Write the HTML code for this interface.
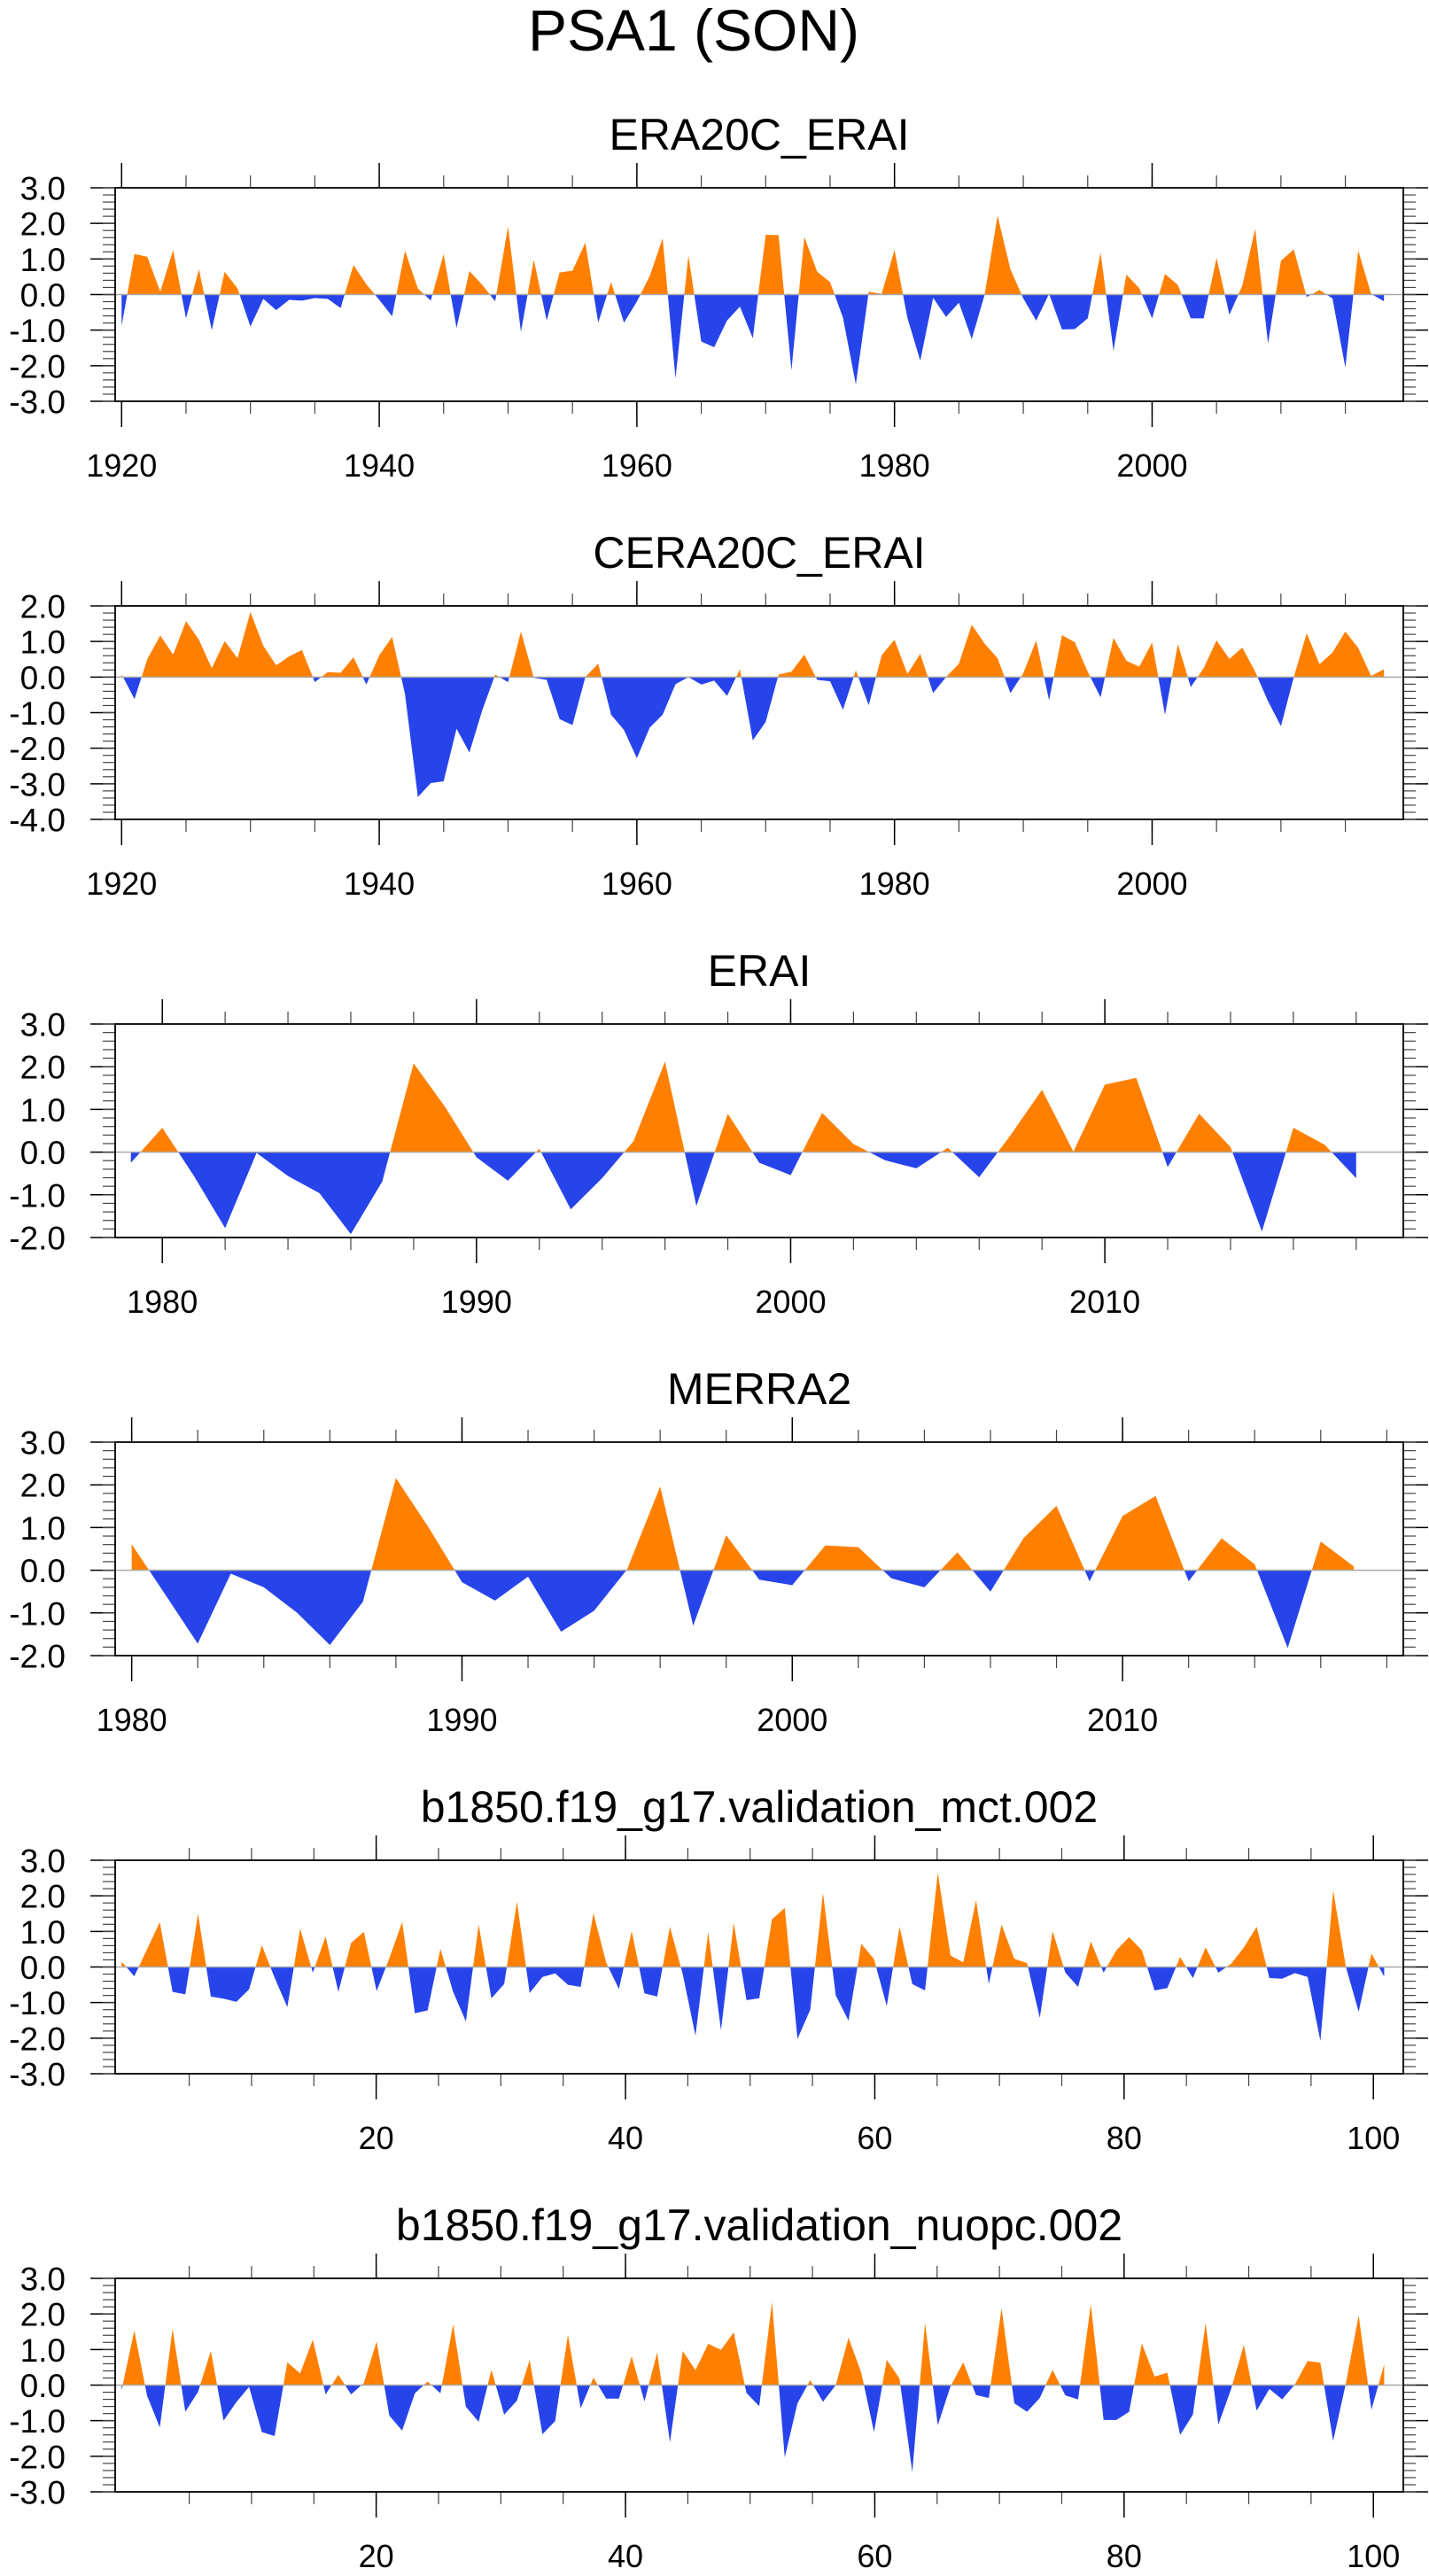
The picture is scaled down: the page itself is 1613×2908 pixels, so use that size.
<!DOCTYPE html>
<html>
<head>
<meta charset="utf-8">
<style>
  html, body { margin: 0; padding: 0; background: #fff; }
  svg { display: block; }
  text { font-family: "Liberation Sans", "DejaVu Sans", sans-serif; fill: #000; }
</style>
</head>
<body>
<svg id="chart" xmlns="http://www.w3.org/2000/svg" width="1613" height="2908" viewBox="0 0 1613 2908">
  <text x="783" y="57" font-size="66" text-anchor="middle">PSA1 (SON)</text>
</svg>
<script>
// ---------- data ----------
const era20cStartYear = 1920;
const era20cValues = [-0.88,1.14,1.06,0.08,1.25,-0.67,0.71,-1.0,0.64,0.17,
 -0.9,-0.12,-0.44,-0.15,-0.17,-0.1,-0.12,-0.38,0.83,0.29,
 -0.15,-0.61,1.23,0.17,-0.17,1.14,-0.94,0.66,0.27,-0.19,
 1.91,-1.05,0.98,-0.73,0.62,0.67,1.46,-0.79,0.35,-0.79,
 -0.2,0.52,1.58,-2.36,1.1,-1.32,-1.48,-0.73,-0.34,-1.23,
 1.68,1.67,-2.13,1.62,0.64,0.35,-0.65,-2.53,0.08,0.02,
 1.25,-0.65,-1.86,-0.09,-0.63,-0.23,-1.25,0.0,2.22,0.71,
 -0.11,-0.73,0.02,-0.98,-0.97,-0.67,1.18,-1.58,0.56,0.18,
 -0.67,0.58,0.27,-0.67,-0.67,1.03,-0.57,0.25,1.85,-1.38,
 0.95,1.27,-0.07,0.13,-0.11,-2.05,1.24,0.02,-0.19];

const cera20cStartYear = 1920;
const cera20cValues = [0.08,-0.62,0.51,1.17,0.63,1.57,1.05,0.25,1.01,0.53,
 1.83,0.88,0.33,0.58,0.76,-0.14,0.14,0.12,0.56,-0.21,
 0.61,1.13,-0.48,-3.37,-2.98,-2.93,-1.45,-2.12,-0.93,0.07,
 -0.14,1.28,-0.02,-0.08,-1.18,-1.35,0.0,0.38,-1.06,-1.49,
 -2.28,-1.42,-1.06,-0.2,0.0,-0.21,-0.1,-0.53,0.22,-1.78,
 -1.26,0.07,0.15,0.63,-0.08,-0.12,-0.92,0.19,-0.79,0.61,
 1.05,0.09,0.65,-0.45,0.0,0.38,1.47,0.94,0.53,-0.45,
 0.11,1.03,-0.65,1.18,0.98,0.15,-0.57,1.1,0.46,0.29,
 0.97,-1.06,0.93,-0.28,0.25,1.03,0.51,0.83,0.15,-0.68,
 -1.38,0.0,1.23,0.36,0.69,1.28,0.82,0.03,0.22];

const eraiStartYear = 1979;
const eraiValues = [-0.25,0.57,-0.55,-1.78,-0.02,-0.56,-0.96,-1.92,-0.69,2.08,
 1.06,-0.12,-0.67,0.08,-1.34,-0.61,0.26,2.12,-1.26,0.9,
 -0.25,-0.54,0.92,0.19,-0.19,-0.38,0.1,-0.59,0.4,1.46,
 0.01,1.58,1.74,-0.35,0.9,0.12,-1.86,0.57,0.17,-0.61];

const merra2StartYear = 1980;
const merra2Values = [0.61,-0.55,-1.72,-0.08,-0.4,-0.99,-1.75,-0.74,2.16,0.99,
 -0.28,-0.71,-0.15,-1.44,-0.95,0.02,1.96,-1.3,0.82,-0.22,
 -0.35,0.58,0.54,-0.19,-0.4,0.42,-0.5,0.75,1.51,-0.26,
 1.27,1.74,-0.26,0.75,0.14,-1.82,0.67,0.09];

const mctStartYear = 1;
const mctValues = [0.15,-0.26,0.5,1.26,-0.7,-0.77,1.5,-0.83,-0.89,-0.98,
 -0.63,0.61,-0.3,-1.13,1.08,-0.16,0.86,-0.7,0.68,0.99,
 -0.68,0.25,1.26,-1.3,-1.22,0.51,-0.7,-1.53,1.19,-0.88,
 -0.48,1.84,-0.73,-0.28,-0.18,-0.5,-0.56,1.51,0.12,-0.62,
 1.01,-0.74,-0.83,1.13,-0.2,-1.93,0.98,-1.78,1.24,-0.93,
 -0.88,1.34,1.66,-2.02,-1.2,2.08,-0.8,-1.51,0.65,0.22,
 -1.1,1.13,-0.48,-0.66,2.65,0.32,0.13,1.88,-0.48,1.19,
 0.23,0.11,-1.43,1.01,-0.16,-0.56,0.72,-0.16,0.47,0.84,
 0.47,-0.66,-0.59,0.28,-0.31,0.55,-0.16,0.09,0.55,1.13,
 -0.31,-0.33,-0.17,-0.28,-2.08,2.15,0.0,-1.26,0.38,-0.27];

const nuopcStartYear = 1;
const nuopcValues = [-0.15,1.53,-0.3,-1.19,1.58,-0.75,-0.19,0.96,-1.0,-0.48,
 -0.05,-1.32,-1.43,0.64,0.33,1.28,-0.26,0.29,-0.26,0.06,
 1.23,-0.86,-1.28,-0.23,0.1,-0.23,1.71,-0.61,-1.03,0.43,
 -0.83,-0.44,0.71,-1.38,-1.01,1.42,-0.65,0.21,-0.38,-0.38,
 0.81,-0.46,0.92,-1.61,0.96,0.42,1.16,0.99,1.48,-0.22,
 -0.59,2.33,-2.03,-0.51,0.14,-0.47,0.0,1.33,0.35,-1.32,
 0.71,0.18,-2.44,1.75,-1.13,-0.03,0.64,-0.28,-0.36,2.16,
 -0.51,-0.75,-0.36,0.43,-0.29,-0.4,2.27,-0.98,-0.98,-0.75,
 1.17,0.24,0.35,-1.4,-0.83,1.75,-1.11,-0.11,1.13,-0.72,
 -0.11,-0.4,0.02,0.68,0.63,-1.57,0.05,1.96,-0.69,0.58];

const yTicks1 = ["3.0","2.0","1.0","0.0","-1.0","-2.0","-3.0"];
const yTicks2 = ["2.0","1.0","0.0","-1.0","-2.0","-3.0","-4.0"];
const yTicks3 = ["3.0","2.0","1.0","0.0","-1.0","-2.0"];
const xLabelsCentury = ["1920","1940","1960","1980","2000"];
const xLabelsModern = ["1980","1990","2000","2010"];
const xLabelsModel = ["20","40","60","80","100"];

// ---------- drawing ----------
const NS = "http://www.w3.org/2000/svg";
const svg = document.getElementById("chart");
const ORANGE = "#FF8000", BLUE = "#2744EB";
const FL = 130, FR = 1584, FH = 241;

function mk(tag, attrs, parent) {
  const el = document.createElementNS(NS, tag);
  for (const k in attrs) el.setAttribute(k, attrs[k]);
  (parent || svg).appendChild(el);
  return el;
}

function drawPanel(cfg, idx) {
  const g = mk("g", {});
  
  
  const top = cfg.top, bot = top + FH;
  const xs = v => FL + (v - cfg.xmin) / (cfg.xmax - cfg.xmin) * (FR - FL);
  const txs = cfg.tickMin !== undefined
    ? (v => FL + (v - cfg.tickMin) / (cfg.tickMax - cfg.tickMin) * (FR - FL))
    : xs;
  const ys = v => top + (cfg.ymax - v) / (cfg.ymax - cfg.ymin) * FH;
  const y0 = ys(0);

  const t = mk("text", {x: (FL + FR) / 2, y: top - 43, "font-size": 50, "text-anchor": "middle"}, g);
  t.textContent = cfg.title;
  
  

  const defs = mk("defs", {}, g);
  const cA = mk("clipPath", {id: "ca" + idx}, defs);
  mk("rect", {x: FL, y: top, width: FR - FL, height: y0 - top}, cA);
  const cB = mk("clipPath", {id: "cb" + idx}, defs);
  mk("rect", {x: FL, y: y0, width: FR - FL, height: bot - y0}, cB);

  const vals = cfg.values;
  let pts = [];
  for (let i = 0; i < vals.length; i++) pts.push(xs(cfg.start + i).toFixed(2) + "," + ys(vals[i]).toFixed(2));
  const xFirst = xs(cfg.start).toFixed(2), xLast = xs(cfg.start + vals.length - 1).toFixed(2);
  const poly = xFirst + "," + y0 + " " + pts.join(" ") + " " + xLast + "," + y0;
  const pa = mk("polygon", {points: poly, fill: ORANGE, "clip-path": "url(#ca" + idx + ")"}, g);
  
  
  const pb = mk("polygon", {points: poly, fill: BLUE, "clip-path": "url(#cb" + idx + ")"}, g);
  
  

  const zl = mk("line", {x1: FL, x2: FR, y1: y0, y2: y0, stroke: "#aaa", "stroke-width": 1.5}, g);
  
  

  const yl = cfg.yLabels;
  for (let i = 0; i < yl.length; i++) {
    const v = parseFloat(yl[i]);
    const y = ys(v);
    mk("line", {x1: FL - 28, x2: FL, y1: y, y2: y, stroke: "#000", "stroke-width": 1.5}, g);
    mk("line", {x1: FR, x2: FR + 28, y1: y, y2: y, stroke: "#000", "stroke-width": 1.5}, g);
    const lt = mk("text", {x: 74, y: y + 13.5, "font-size": 37, "text-anchor": "end"}, g);
    lt.textContent = yl[i];
    
    
  }
  for (let v = cfg.ymin; v <= cfg.ymax + 1e-6; v += 0.2) {
    const y = ys(v);
    mk("line", {x1: FL - 14, x2: FL, y1: y, y2: y, stroke: "#444", "stroke-width": 1.2}, g);
    mk("line", {x1: FR, x2: FR + 14, y1: y, y2: y, stroke: "#444", "stroke-width": 1.2}, g);
  }
  for (let v = cfg.minorStart; v <= 3000; v += cfg.minorStep) {
    const x = txs(v);
    if (x > FR) break;
    if (x < FL) continue;
    mk("line", {x1: x, x2: x, y1: top - 14, y2: top, stroke: "#444", "stroke-width": 1.2}, g);
    mk("line", {x1: x, x2: x, y1: bot, y2: bot + 14, stroke: "#444", "stroke-width": 1.2}, g);
  }
  for (let i = 0; i < cfg.xLabels.length; i++) {
    const x = txs(parseFloat(cfg.xLabels[i]));
    mk("line", {x1: x, x2: x, y1: top - 28, y2: top, stroke: "#000", "stroke-width": 1.5}, g);
    mk("line", {x1: x, x2: x, y1: bot, y2: bot + 29, stroke: "#000", "stroke-width": 1.5}, g);
    const xt = mk("text", {x: x, y: bot + 85, "font-size": 36, "text-anchor": "middle"}, g);
    xt.textContent = cfg.xLabels[i];
    
    
  }
  const fr = mk("rect", {x: FL, y: top, width: FR - FL, height: FH, fill: "none", stroke: "#000", "stroke-width": 1.8}, g);
  
  
}

const panels = [
  {name: "era20c-erai", title: "ERA20C_ERAI", top: 212, values: era20cValues, start: era20cStartYear,
   xmin: 1919.5, xmax: 2019.5, ymin: -3, ymax: 3, yLabels: yTicks1, xLabels: xLabelsCentury, minorStart: 1920, minorStep: 5},
  {name: "cera20c-erai", title: "CERA20C_ERAI", top: 684, values: cera20cValues, start: cera20cStartYear,
   xmin: 1919.5, xmax: 2019.5, ymin: -4, ymax: 2, yLabels: yTicks2, xLabels: xLabelsCentury, minorStart: 1920, minorStep: 5},
  {name: "erai", title: "ERAI", top: 1156, values: eraiValues, start: eraiStartYear,
   xmin: 1978.5, xmax: 2019.5, ymin: -2, ymax: 3, yLabels: yTicks3, xLabels: xLabelsModern, minorStart: 1980, minorStep: 2},
  {name: "merra2", title: "MERRA2", top: 1628, values: merra2Values, start: merra2StartYear,
   xmin: 1979.5, xmax: 2018.5, ymin: -2, ymax: 3, yLabels: yTicks3, xLabels: xLabelsModern, minorStart: 1980, minorStep: 2},
  {name: "mct", title: "b1850.f19_g17.validation_mct.002", top: 2100, values: mctValues, start: mctStartYear,
   xmin: 0.5, xmax: 101.5, tickMin: -0.94, tickMax: 102.4, ymin: -3, ymax: 3, yLabels: yTicks1, xLabels: xLabelsModel, minorStart: 5, minorStep: 5},
  {name: "nuopc", title: "b1850.f19_g17.validation_nuopc.002", top: 2572, values: nuopcValues, start: nuopcStartYear,
   xmin: 0.5, xmax: 101.5, tickMin: -0.94, tickMax: 102.4, ymin: -3, ymax: 3, yLabels: yTicks1, xLabels: xLabelsModel, minorStart: 5, minorStep: 5}
];
panels.forEach((p, i) => drawPanel(p, i));
</script>
</body>
</html>
